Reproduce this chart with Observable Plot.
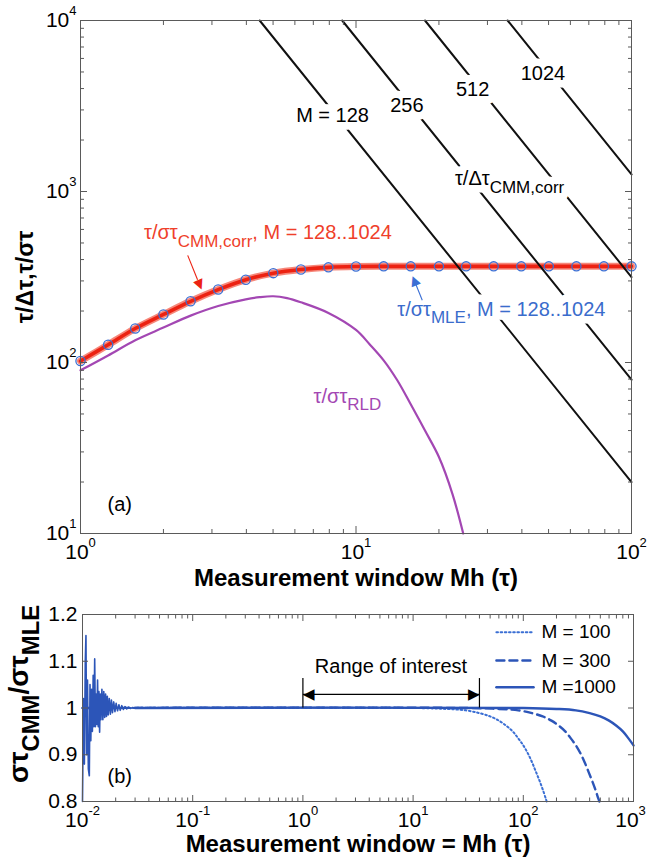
<!DOCTYPE html>
<html>
<head>
<meta charset="utf-8">
<script src="https://cdn.jsdelivr.net/npm/d3@7"></script>
<script src="https://cdn.jsdelivr.net/npm/@observablehq/plot@0.6"></script>
<style>
  html, body { margin: 0; padding: 0; background: #ffffff; }
  #chart { width: 647px; height: 868px; position: relative; font-family: "Liberation Sans", Arial, sans-serif; }
  #chart svg { display: block; }
</style>
</head>
<body>
<div id="chart"></div>
<script>
// ================= Panel (a) data =================
const windowA   = [1, 1.26, 1.58, 2, 2.51, 3.16, 3.98, 5.01, 6.31, 7.94, 10, 12.6, 15.8, 20, 25.1, 31.6, 39.8, 50.1, 63.1, 79.4, 100];
const cmmCorr   = [102, 127, 158, 191, 228, 267, 305, 333, 350, 360, 364, 365, 365, 365, 365, 365, 365, 365, 365, 365, 365];
const mleValues = [102, 127, 158, 191, 228, 267, 305, 333, 350, 360, 364, 365, 365, 365, 365, 365, 365, 365, 365, 365, 365];
const rldWindow = [1, 1.26, 1.58, 2, 2.51, 3.16, 3.98, 4.47, 5.01, 5.62, 6.31, 7.94, 10, 11.2, 12.6, 14.1, 15.8, 17.8, 20, 22.4, 24.5];
const rldValues = [90, 110, 135, 160, 188, 214, 234, 241, 244, 238, 225, 195, 155, 128, 103, 79, 57, 40, 28, 17, 10];
// tau/dtau_CMM,corr straight lines (one per M): window where each leaves the top (1e4), and value at window = 100
const mValues      = [128, 256, 512, 1024];
const lineTopX     = [4.47, 8.91, 17.8, 35.5];
const lineEndValue = [20, 79.4, 316, 1259];

// axis ticks
const xMajorA = [1, 10, 100];
const xMinorA = [2, 3, 4, 5, 6, 7, 8, 9, 20, 30, 40, 50, 60, 70, 80, 90];
const yMajorA = [10, 100, 1000, 10000];
const yMinorA = [20, 30, 40, 50, 60, 70, 80, 90, 200, 300, 400, 500, 600, 700, 800, 900, 2000, 3000, 4000, 5000, 6000, 7000, 8000, 9000];

// ================= Panel (b) data =================
const noiseWindow = [0.0100, 0.0102, 0.0104, 0.0106, 0.01075, 0.0109, 0.0111, 0.0113, 0.01153, 0.0117, 0.0119, 0.0121, 0.0123, 0.0125, 0.0127, 0.0129, 0.0131, 0.0133, 0.0135, 0.0137, 0.0139, 0.0141, 0.0143, 0.0145, 0.0147, 0.0150, 0.0153, 0.0156, 0.0159, 0.0162, 0.0165, 0.0168, 0.0171, 0.0175, 0.0179, 0.0183, 0.0187, 0.0192, 0.0197, 0.0202, 0.0208, 0.0214, 0.0220, 0.0227, 0.0235, 0.0243, 0.0252, 0.0262, 0.0272, 0.0285, 0.0300];
const noiseRatio  = [0.80, 1.02, 0.88, 1.10, 1.155, 0.90, 1.06, 0.87, 0.855, 1.05, 0.93, 1.04, 0.95, 1.07, 0.96, 1.105, 0.96, 1.03, 0.965, 1.06, 0.96, 1.035, 0.948, 1.03, 0.975, 1.04, 0.975, 1.035, 0.98, 1.03, 0.982, 1.025, 0.985, 1.02, 0.987, 1.017, 0.99, 1.013, 0.992, 1.01, 0.994, 1.007, 0.995, 1.005, 0.997, 1.003, 0.998, 1.002, 0.999, 1.001, 1.0];
const m100Window  = [0.01, 10, 20, 30, 40, 50, 60, 70, 80, 90, 100, 110, 120, 130, 140, 150, 160, 163];
const m100Ratio   = [1, 1, 0.998, 0.995, 0.989, 0.982, 0.973, 0.962, 0.950, 0.935, 0.920, 0.903, 0.884, 0.864, 0.845, 0.826, 0.806, 0.80];
const m300Window  = [0.01, 30, 60, 90, 120, 150, 180, 210, 240, 270, 300, 330, 360, 390, 420, 450, 480, 490];
const m300Ratio   = [1, 1, 0.998, 0.995, 0.989, 0.982, 0.973, 0.962, 0.950, 0.935, 0.920, 0.903, 0.884, 0.864, 0.845, 0.826, 0.806, 0.80];
const m1000Window = [0.03, 100, 200, 300, 400, 500, 600, 700, 800, 900, 1000];
const m1000Ratio  = [1, 1, 0.998, 0.995, 0.989, 0.982, 0.973, 0.962, 0.950, 0.935, 0.920];

const xMajorB = [0.01, 0.1, 1, 10, 100, 1000];
const xMinorB = [0.02, 0.03, 0.04, 0.05, 0.06, 0.07, 0.08, 0.09, 0.2, 0.3, 0.4, 0.5, 0.6, 0.7, 0.8, 0.9, 2, 3, 4, 5, 6, 7, 8, 9, 20, 30, 40, 50, 60, 70, 80, 90, 200, 300, 400, 500, 600, 700, 800, 900];
const yMajorB = [0.8, 0.9, 1.0, 1.1, 1.2];
const rangeOfInterest = [1, 40];

// ================= colours & helpers =================
const RED = "#ec2212", RED_HALO = "#f6877a", RED_TEXT = "#ef3f2b";
const BLUE = "#3b6fd4", BLUE_TEXT = "#3a6ccc", PURPLE = "#a347b3", DARKBLUE = "#2c55b8";
const FRAME = "#5a5a5a";
const FONT = "'Liberation Sans', Arial, Helvetica, sans-serif";

const SVGNS = "http://www.w3.org/2000/svg";
const SUP = {scale: 0.62, shift: 0.57};
const SUB = {scale: 0.85, shift: 0.38};
function richify(root) {
  root.querySelectorAll("text").forEach(t => {
    const s = t.textContent;
    if (!/[\^_]\{/.test(s)) return;
    const re = /([\^_])\{([^}]*)\}/g;
    const parts = []; let last = 0, m;
    while ((m = re.exec(s))) {
      if (m.index > last) parts.push({text: s.slice(last, m.index), kind: null});
      parts.push({text: m[2], kind: m[1]});
      last = re.lastIndex;
    }
    if (last < s.length) parts.push({text: s.slice(last), kind: null});
    while (t.firstChild) t.removeChild(t.firstChild);
    let shift = 0;
    for (const p of parts) {
      const ts = document.createElementNS(SVGNS, "tspan");
      ts.textContent = p.text;
      let target = 0, scale = 1;
      if (p.kind === "^") { target = -SUP.shift; scale = SUP.scale; }
      if (p.kind === "_") { target = SUB.shift; scale = SUB.scale; }
      if (scale !== 1) ts.setAttribute("font-size", scale + "em");
      const delta = target - shift;
      if (delta) ts.setAttribute("dy", (delta / scale).toFixed(3) + "em");
      shift = target;
      t.appendChild(ts);
    }
  });
}
const pow10 = d => `10^{${Math.round(Math.log10(d))}}`;
const blank = () => "";

// ================= Panel (a) =================
const redData = windowA.map((x, i) => ({x, y: cmmCorr[i]}));
const mleData = windowA.map((x, i) => ({x, y: mleValues[i]}));
const rldData = rldWindow.map((x, i) => ({x, y: rldValues[i]}));
const cmmLines = mValues.flatMap((M, i) => [{M, x: lineTopX[i], y: 10000}, {M, x: 100, y: lineEndValue[i]}]);

const lineLabels = [
  {x: 8.22, y: 2773, text: "M = 128", fill: "#000"},
  {x: 15.3, y: 3170, text: "256", fill: "#000"},
  {x: 26.5, y: 3936, text: "512", fill: "#000"},
  {x: 47.7, y: 4875, text: "1024", fill: "#000"},
  {x: 36.1, y: 1186, text: "τ/Δτ_{CMM,corr}", fill: "#000"},
  {x: 33.7, y: 205, text: "τ/στ_{MLE}, M = 128..1024", fill: BLUE_TEXT}
];

const plotA = Plot.plot({
  width: 647, height: 600,
  marginLeft: 80, marginRight: 16, marginTop: 20, marginBottom: 67,
  style: {fontFamily: FONT, fontSize: "21px", background: "transparent", overflow: "visible", color: "#000"},
  x: {type: "log", domain: [1, 100]},
  y: {type: "log", domain: [10, 10000]},
  marks: [
    Plot.line(rldData, {x: "x", y: "y", stroke: PURPLE, strokeWidth: 2.2, curve: "catmull-rom"}),
    Plot.line(redData, {x: "x", y: "y", stroke: RED_HALO, strokeWidth: 7, curve: "catmull-rom"}),
    Plot.line(redData, {x: "x", y: "y", stroke: RED, strokeWidth: 3.6, curve: "catmull-rom"}),
    Plot.line(cmmLines, {x: "x", y: "y", z: "M", stroke: "#111", strokeWidth: 2}),
    Plot.dot(mleData, {x: "x", y: "y", r: 4.6, stroke: BLUE, strokeWidth: 1.3, fill: "none"}),
    // white halo under the labels that sit on the black lines (opens the gaps)
    Plot.text(lineLabels, {x: "x", y: "y", text: "text", fill: "white", fontSize: 20,
      stroke: "white", strokeWidth: 15, strokeLinejoin: "round"}),
    Plot.text(lineLabels, {x: "x", y: "y", text: "text", fill: "fill", fontSize: 20}),
    Plot.text([{x: 4.79, y: 573, text: "τ/στ_{CMM,corr}, M = 128..1024"}], {x: "x", y: "y", text: "text", fill: RED_TEXT, fontSize: 20}),
    Plot.text([{x: 9.31, y: 63.6, text: "τ/στ_{RLD}"}], {x: "x", y: "y", text: "text", fill: PURPLE, fontSize: 20}),
    Plot.text([{x: 1.253, y: 14.8, text: "(a)"}], {x: "x", y: "y", text: "text", fill: "#000", fontSize: 20, textAnchor: "start"}),
    // pointer arrows
    Plot.link([{x1: 2.45, y1: 423, x2: 2.66, y2: 305}], {x1: "x1", y1: "y1", x2: "x2", y2: "y2", stroke: RED, strokeWidth: 1.1}),
    Plot.text([{x: 2.716, y: 282}], {x: "x", y: "y", text: () => "▲", rotate: 157, fill: RED, fontSize: 13, fontFamily: "DejaVu Sans"}),
    Plot.link([{x1: 17.4, y1: 231, x2: 16.5, y2: 286}], {x1: "x1", y1: "y1", x2: "x2", y2: "y2", stroke: BLUE, strokeWidth: 1.1}),
    Plot.text([{x: 16.24, y: 304}], {x: "x", y: "y", text: () => "▲", rotate: -22, fill: BLUE, fontSize: 13, fontFamily: "DejaVu Sans"}),
    // frame and inward ticks
    Plot.frame({stroke: FRAME, strokeWidth: 1}),
    Plot.axisX(xMajorA, {anchor: "bottom", tickSize: -7, tickFormat: blank, label: null, stroke: FRAME}),
    Plot.axisX(xMinorA, {anchor: "bottom", tickSize: -4, tickFormat: blank, label: null, stroke: FRAME}),
    Plot.axisX(xMajorA, {anchor: "top", tickSize: -7, tickFormat: blank, label: null, stroke: FRAME}),
    Plot.axisX(xMinorA, {anchor: "top", tickSize: -4, tickFormat: blank, label: null, stroke: FRAME}),
    Plot.axisY(yMajorA, {anchor: "left", tickSize: -7, tickFormat: blank, label: null, stroke: FRAME}),
    Plot.axisY(yMinorA, {anchor: "left", tickSize: -4, tickFormat: blank, label: null, stroke: FRAME}),
    Plot.axisY(yMajorA, {anchor: "right", tickSize: -7, tickFormat: blank, label: null, stroke: FRAME}),
    Plot.axisY(yMinorA, {anchor: "right", tickSize: -4, tickFormat: blank, label: null, stroke: FRAME}),
    // tick labels
    Plot.axisX(xMajorA, {anchor: "bottom", tickSize: 0, tickPadding: 11, tickFormat: pow10, label: null, fontSize: 21, fill: "#000"}),
    Plot.axisY(yMajorA, {anchor: "left", tickSize: 0, tickPadding: 4, tickFormat: pow10, label: null, fontSize: 21, fill: "#000"}),
    // axis titles
    Plot.text(["Measurement window Mh (τ)"], {frameAnchor: "bottom", dy: 52, fontSize: 24, fontWeight: "bold", fill: "#000"}),
    Plot.text(["τ/Δτ,τ/στ"], {frameAnchor: "left", textAnchor: "middle", rotate: -90, dx: -55, fontSize: 23, fontWeight: "bold", fill: "#000"})
  ]
});

// ================= Panel (b) =================
const noiseData = noiseWindow.map((x, i) => ({x, y: noiseRatio[i]}));
const m100Data  = m100Window.map((x, i) => ({x, y: m100Ratio[i]}));
const m300Data  = m300Window.map((x, i) => ({x, y: m300Ratio[i]}));
const m1000Data = m1000Window.map((x, i) => ({x, y: m1000Ratio[i]}));

const legendEntries = [
  {label: "M = 100", y: 1.162, dash: "1.6,2.6", width: 2, color: BLUE},
  {label: "M = 300", y: 1.1016, dash: "8,5", width: 2.4, color: DARKBLUE},
  {label: "M =1000", y: 1.0445, dash: null, width: 2.4, color: DARKBLUE}
];
const legendX = [57, 124], legendTextX = 146;

const plotB = Plot.plot({
  width: 647, height: 268,
  marginLeft: 82, marginRight: 14, marginTop: 14, marginBottom: 67,
  style: {fontFamily: FONT, fontSize: "21px", background: "transparent", overflow: "visible", color: "#000"},
  x: {type: "log", domain: [0.01, 1000]},
  y: {domain: [0.8, 1.2]},
  marks: [
    Plot.line(m100Data, {x: "x", y: "y", stroke: BLUE, strokeWidth: 2, strokeDasharray: "1.6,2.6", curve: "catmull-rom"}),
    Plot.line(m300Data, {x: "x", y: "y", stroke: DARKBLUE, strokeWidth: 2.4, strokeDasharray: "8,5", curve: "catmull-rom"}),
    Plot.line(noiseData, {x: "x", y: "y", stroke: DARKBLUE, strokeWidth: 1.6}),
    Plot.line(m1000Data, {x: "x", y: "y", stroke: DARKBLUE, strokeWidth: 2.4, curve: "catmull-rom"}),
    // legend
    ...legendEntries.map(e => Plot.line(legendX.map(x => ({x, y: e.y})), {x: "x", y: "y", stroke: e.color, strokeWidth: e.width, strokeDasharray: e.dash})),
    Plot.text(legendEntries, {x: () => legendTextX, y: "y", text: "label", textAnchor: "start", fontSize: 19, fill: "#000"}),
    // range of interest
    Plot.ruleX(rangeOfInterest, {y1: 1.0, y2: 1.063, stroke: "#000", strokeWidth: 1.2}),
    Plot.link([{x1: rangeOfInterest[0], x2: rangeOfInterest[1], y: 1.029}], {x1: "x1", x2: "x2", y1: "y", y2: "y", stroke: "#000", strokeWidth: 1.3}),
    Plot.text([{x: rangeOfInterest[0], y: 1.029}], {x: "x", y: "y", text: () => "◀", textAnchor: "start", fill: "#000", fontSize: 15, fontFamily: "DejaVu Sans"}),
    Plot.text([{x: rangeOfInterest[1], y: 1.029}], {x: "x", y: "y", text: () => "▶", textAnchor: "end", fill: "#000", fontSize: 15, fontFamily: "DejaVu Sans"}),
    Plot.text([{x: 6.3, y: 1.089, text: "Range of interest"}], {x: "x", y: "y", text: "text", fontSize: 20, fill: "#000"}),
    Plot.text([{x: 0.01687, y: 0.8535, text: "(b)"}], {x: "x", y: "y", text: "text", textAnchor: "start", fontSize: 20, fill: "#000"}),
    // frame & ticks
    Plot.frame({stroke: FRAME, strokeWidth: 1}),
    Plot.axisX(xMajorB, {anchor: "bottom", tickSize: -6, tickFormat: blank, label: null, stroke: FRAME}),
    Plot.axisX(xMinorB, {anchor: "bottom", tickSize: -3.5, tickFormat: blank, label: null, stroke: FRAME}),
    Plot.axisX(xMajorB, {anchor: "top", tickSize: -6, tickFormat: blank, label: null, stroke: FRAME}),
    Plot.axisX(xMinorB, {anchor: "top", tickSize: -3.5, tickFormat: blank, label: null, stroke: FRAME}),
    Plot.axisY(yMajorB, {anchor: "left", tickSize: -6, tickFormat: blank, label: null, stroke: FRAME}),
    Plot.axisY(yMajorB, {anchor: "right", tickSize: -6, tickFormat: blank, label: null, stroke: FRAME}),
    Plot.axisX(xMajorB.slice(0, -1), {anchor: "bottom", tickSize: 0, tickPadding: 11, tickFormat: pow10, label: null, fontSize: 21, fill: "#000"}),
    Plot.axisX(xMajorB.slice(-1), {anchor: "bottom", tickSize: 0, tickPadding: 11, dx: -3, tickFormat: pow10, label: null, fontSize: 21, fill: "#000"}),
    Plot.axisY(yMajorB, {anchor: "left", tickSize: 0, tickPadding: 5, tickFormat: d => (Math.abs(d - 1) < 1e-9 ? "1" : d.toFixed(1)), label: null, fontSize: 21, fill: "#000"}),
    Plot.text(["Measurement window = Mh (τ)"], {frameAnchor: "bottom", dy: 50, fontSize: 24, fontWeight: "bold", fill: "#000"}),
    Plot.text(["στ_{CMM}/στ_{MLE}"], {frameAnchor: "left", textAnchor: "middle", rotate: -90, dx: -63, dy: -14, fontSize: 28, fontWeight: "bold", fill: "#000"})
  ]
});

const chart = document.getElementById("chart");
chart.appendChild(plotA);
chart.appendChild(plotB);
richify(plotA);
richify(plotB);
</script>
</body>
</html>
